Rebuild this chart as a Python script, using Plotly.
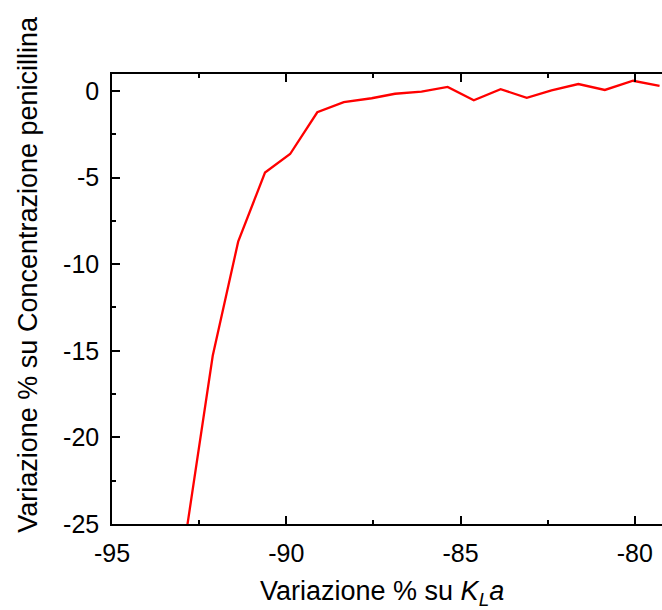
import plotly.graph_objects as go

# Data
kla_variation = [-92.87, -92.11, -91.38, -90.61, -89.89, -89.11, -88.35, -87.55,
                 -86.88, -86.12, -85.37, -84.62, -83.85, -83.10, -82.39, -81.62,
                 -80.86, -80.05, -79.29]
penicillin_variation = [-25.5, -15.29, -8.70, -4.71, -3.64, -1.23, -0.65, -0.42,
                        -0.16, -0.04, 0.23, -0.54, 0.10, -0.39, 0.04, 0.40,
                        0.06, 0.59, 0.30]

x_tick_vals = [-95, -90, -85, -80]
x_tick_text = ["-95", "-90", "-85", "-80"]
y_tick_vals = [0, -5, -10, -15, -20, -25]
y_tick_text = ["0", "-5", "-10", "-15", "-20", "-25"]

FONT = "Liberation Sans, Arial, sans-serif"

fig = go.Figure()
fig.add_trace(go.Scatter(
    x=kla_variation, y=penicillin_variation, mode="lines",
    line=dict(color="#ff0000", width=2.3), showlegend=False,
))

fig.update_layout(
    width=662, height=610,
    margin=dict(l=112, r=0, t=74, b=86),
    paper_bgcolor="white", plot_bgcolor="white",
    font=dict(family=FONT, size=25, color="black"),
    xaxis=dict(
        range=[-95, -79.22], tickvals=x_tick_vals, ticktext=x_tick_text,
        showgrid=False, zeroline=False, showline=True, linecolor="black", linewidth=1.5,
        mirror="allticks", ticks="inside", ticklen=8, tickwidth=1.5, tickcolor="black",
        minor=dict(dtick=2.5, tick0=-95, ticks="inside", ticklen=4, tickwidth=1.5, tickcolor="black"),
        tickfont=dict(size=25, family=FONT), ticklabelstandoff=6,
    ),
    yaxis=dict(
        range=[-25, 0.98], tickvals=y_tick_vals, ticktext=y_tick_text,
        showgrid=False, zeroline=False, showline=True, linecolor="black", linewidth=1.5,
        ticks="inside", ticklen=8, tickwidth=1.5, tickcolor="black",
        minor=dict(dtick=2.5, tick0=0, ticks="inside", ticklen=4, tickwidth=1.5, tickcolor="black"),
        tickfont=dict(size=25, family=FONT), ticklabelstandoff=6,
    ),
    annotations=[
        dict(text="Variazione % su <i>K</i><sub><i>L</i></sub><i>a</i>",
             xref="paper", yref="paper", x=0.491, y=-0.111,
             xanchor="center", yanchor="top", showarrow=False,
             font=dict(size=27, family=FONT)),
        dict(text="Variazione % su Concentrazione penicillina",
             xref="paper", yref="paper", x=-0.1527, y=0.554, textangle=-90,
             xanchor="center", yanchor="middle", showarrow=False,
             font=dict(size=27, family=FONT)),
    ],
)

fig.write_html("out.html")
